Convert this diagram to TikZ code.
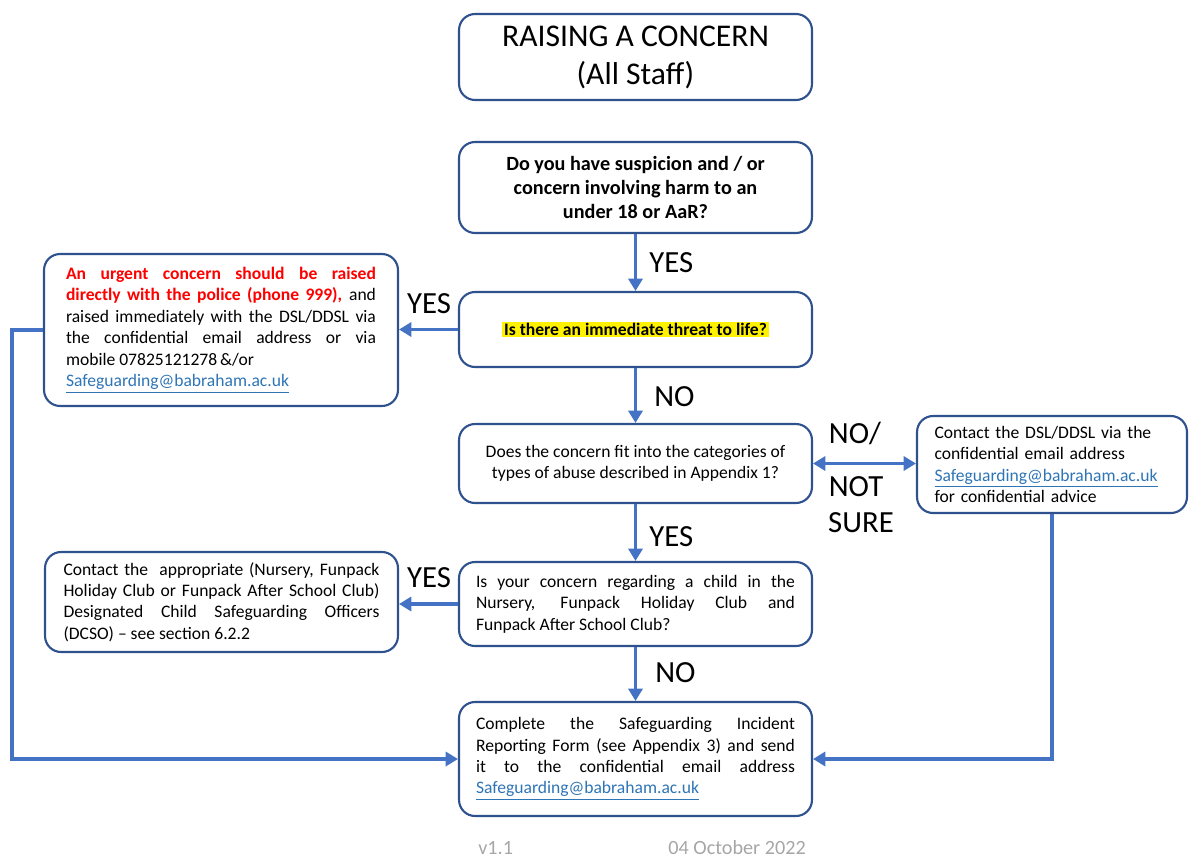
\documentclass[tikz,border=0pt]{standalone}
\usepackage{fontspec}
\setmainfont{Carlito}
\usetikzlibrary{arrows.meta}
\hyphenpenalty=10000
\definecolor{boxblue}{HTML}{2F528F}
\definecolor{lineblue}{HTML}{4472C4}
\definecolor{linkblue}{HTML}{2E75B6}
\definecolor{urgentred}{HTML}{FF0000}
\definecolor{footgray}{HTML}{A6A6A6}
\newcommand{\maillink}{\textcolor{linkblue}{\underline{Safeguarding@babraham.ac.uk}}}
\tikzset{
  box/.style={draw=boxblue, line width=1.2pt, rounded corners=0.32cm, fill=white,
    inner sep=0pt, font=\fontsize{10}{12.2}\selectfont},
  flow/.style={draw=lineblue, line width=1.8pt, -{Triangle[length=7pt,width=8pt]}},
  answer/.style={font=\fontsize{17.5}{20}\selectfont, inner sep=0pt}
}
\begin{document}
\begin{tikzpicture}[x=0.02cm, y=-0.02cm]
\useasboundingbox (0,0) rectangle (1189,859);
% boxes
\node[box, minimum width=7.06cm, minimum height=1.72cm, align=center,
  font=\fontsize{18}{21.6}\selectfont] (title) at (635.5,57) {RAISING A CONCERN\\(All Staff)};
\node[box, minimum width=7.06cm, minimum height=1.82cm, align=center,
  font=\fontsize{11.5}{13.6}\selectfont\bfseries] (susp) at (635.5,187.5)
  {Do you have suspicion and / or\\concern involving harm to an\\under 18 or AaR?};
\node[box, minimum width=7.06cm, minimum height=1.5cm, font=\fontsize{10}{12}\selectfont\bfseries] (threat) at (635.5,329.5)
  {{\setlength{\fboxsep}{1pt}\colorbox{yellow}{Is there an immediate threat to life?}}};
\node[box, minimum width=7.08cm, minimum height=3.04cm, text width=6.2cm, align=justify] (urgent) at (221,330)
  {\textcolor{urgentred}{\bfseries An urgent concern should be raised\linebreak directly with the police (phone 999),} and\linebreak raised immediately with the DSL/DDSL via\linebreak the confidential email address or via\linebreak mobile 07825121278\,\&/or\\ \maillink};
\node[box, minimum width=7.06cm, minimum height=1.58cm, align=center] (cat) at (635.5,463.5)
  {Does the concern fit into the categories of\\types of abuse described in Appendix 1?};
\node[box, minimum width=5.4cm, minimum height=1.94cm, text width=4.7cm, align=left] (dsl) at (1052,464.5)
  {Contact the DSL/DDSL via the\\confidential email address\\\maillink\\for confidential advice};
\node[box, minimum width=7.06cm, minimum height=1.68cm, text width=6.38cm, align=justify] (child) at (635.5,604)
  {Is your concern regarding a child in the\linebreak Nursery, Funpack Holiday Club and\linebreak Funpack After School Club?};
\node[box, minimum width=7.06cm, minimum height=2cm, text width=6.32cm, align=justify] (dcso) at (221.5,602)
  {Contact the\ \ appropriate (Nursery, Funpack\linebreak Holiday Club or Funpack After School Club)\linebreak Designated Child Safeguarding Officers\linebreak (DCSO) -- see section 6.2.2};
\node[box, minimum width=7.06cm, minimum height=2.28cm, text width=6.38cm, align=justify] (form) at (635.5,759)
  {Complete the Safeguarding Incident\linebreak Reporting Form (see Appendix 3) and send\linebreak it to the confidential email address\linebreak \maillink};
% connectors
\path[flow] (susp) -- (threat);
\path[flow] (threat) -- (cat);
\path[flow] (cat) -- (child);
\path[flow] (child) -- (form);
\path[flow] (threat.west) -- (threat.west -| urgent.east);
\path[flow] (child.west) -- (child.west -| dcso.east);
\path[flow, {Triangle[length=7pt,width=8pt]}-{Triangle[length=7pt,width=8pt]}] (cat.east) -- (cat.east -| dsl.west);
\path[flow] (urgent.west) -- (12,330) |- (form.west);
\path[flow] (dsl.south) |- (form.east);
% labels
\node[answer, anchor=west] (yes1) at (649,263) {YES};
\node[answer, anchor=west] (no1) at (654,397) {NO};
\node[answer, anchor=west] (yes2) at (649,537) {YES};
\node[answer, anchor=west] (no2) at (655,673) {NO};
\node[answer] (yes3) at (429,304) {YES};
\node[answer] (yes4) at (429,578) {YES};
\node[answer] (nosure1) at (855,433) {NO/};
\node[answer] (nosure2) at (856,487) {NOT};
\node[answer] (nosure3) at (861,523) {SURE};
% footer
\node[anchor=base west, inner sep=0pt, text=footgray, font=\fontsize{11.5}{14}\selectfont] (ver) at (478,854) {v1.1};
\node[anchor=base west, inner sep=0pt, text=footgray, font=\fontsize{11.5}{14}\selectfont] (date) at (668,854) {04 October 2022};
\end{tikzpicture}
\end{document}
